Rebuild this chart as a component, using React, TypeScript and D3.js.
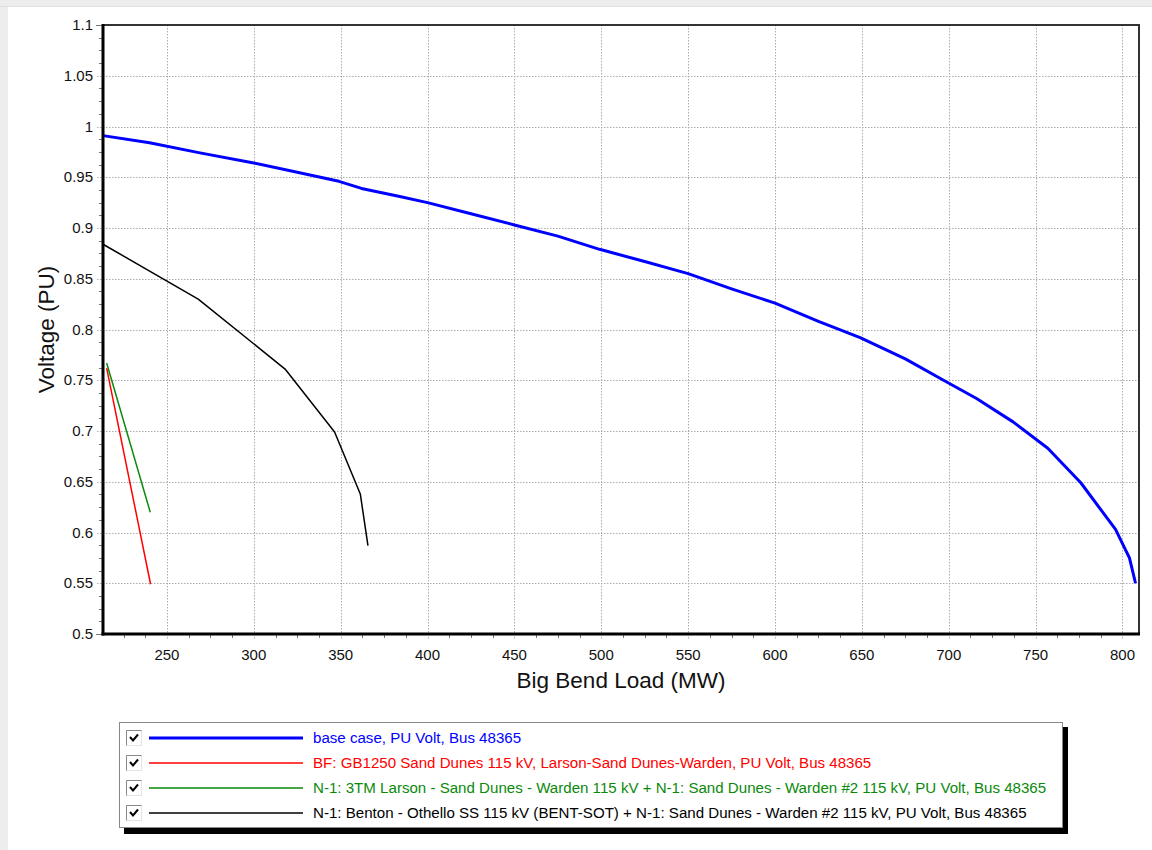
import React from "react";
import * as d3 from "d3";

// Big Bend Load (MW) vs Voltage (PU), bus 48365
const baseLoad = [213.2, 240, 269, 300, 325, 349, 362, 384, 400, 425, 450, 475, 499, 525, 550, 575, 600, 625, 649, 675, 697, 716, 737, 757, 776, 796, 804, 807.5];
const baseVolt = [0.991, 0.984, 0.974, 0.964, 0.955, 0.946, 0.939, 0.931, 0.925, 0.914, 0.903, 0.892, 0.879, 0.867, 0.855, 0.840, 0.826, 0.808, 0.792, 0.771, 0.750, 0.732, 0.709, 0.683, 0.649, 0.603, 0.575, 0.550];

const bfLoad = [215.3, 240.6];
const bfVolt = [0.762, 0.549];

const n1Load = [215.3, 240.4];
const n1Volt = [0.767, 0.620];

const bentLoad = [213.2, 268, 318, 346.5, 361.3, 365.7];
const bentVolt = [0.884, 0.830, 0.761, 0.699, 0.638, 0.587];

const xTicks = [250, 300, 350, 400, 450, 500, 550, 600, 650, 700, 750, 800];
const yTicks = [0.5, 0.55, 0.6, 0.65, 0.7, 0.75, 0.8, 0.85, 0.9, 0.95, 1, 1.05, 1.1];

const legendLabels = [
  "base case, PU Volt, Bus 48365",
  "BF: GB1250 Sand Dunes 115 kV, Larson-Sand Dunes-Warden, PU Volt, Bus 48365",
  "N-1: 3TM Larson - Sand Dunes - Warden 115 kV + N-1: Sand Dunes - Warden #2 115 kV, PU Volt, Bus 48365",
  "N-1: Benton - Othello SS 115 kV (BENT-SOT) + N-1: Sand Dunes - Warden #2 115 kV, PU Volt, Bus 48365",
];

const W = 1152;
const H = 850;
const left = 103, right = 1139, top = 25, bottom = 634;
const font = "'Liberation Sans', Arial, sans-serif";

const x = d3.scaleLinear().domain([213.2, 809.5]).range([left, right]);
const y = d3.scaleLinear().domain([0.5, 1.1]).range([bottom, top]);

const line = d3
  .line<[number, number]>()
  .x(d => x(d[0]))
  .y(d => y(d[1]));

const zip = (a: number[], b: number[]) => a.map((v, i) => [v, b[i]] as [number, number]);

const series = [
  { pts: zip(baseLoad, baseVolt), color: "#0000ff", width: 3 },
  { pts: zip(bfLoad, bfVolt), color: "#ff0000", width: 1.5 },
  { pts: zip(n1Load, n1Volt), color: "#0a8a0a", width: 1.5 },
  { pts: zip(bentLoad, bentVolt), color: "#000000", width: 1.5 },
];

const xMinor = d3.range(225, 809, 12.5).filter(v => v % 50 !== 0);
const yMinor = d3.range(0, 48).map(i => 0.5 + i * 0.0125).filter((v, i) => i % 4 !== 0);

export default function App() {
  return (
    <svg width={W} height={H} style={{ position: "absolute", left: 0, top: 0 }} fontFamily={font}>
      <rect width={W} height={H} fill="#ededed" />
      <rect x={8} y={7} width={W - 8} height={H - 7} fill="#ffffff" />
      <line x1={0} x2={W} y1={6.5} y2={6.5} stroke="#e0e0e0" />

      {/* grid */}
      <g stroke="#adadad" strokeDasharray="1.5,1.5" strokeWidth={1}>
        {xTicks.map(t => (
          <line key={t} x1={Math.round(x(t)) + 0.5} x2={Math.round(x(t)) + 0.5} y1={top} y2={bottom + 5} />
        ))}
        {yTicks.slice(1, -1).map(t => (
          <line key={t} x1={left - 6} x2={right} y1={Math.round(y(t)) + 0.5} y2={Math.round(y(t)) + 0.5} />
        ))}
      </g>

      {/* minor ticks */}
      <g stroke="#777" strokeWidth={1}>
        {xMinor.map(t => (
          <line key={t} x1={Math.round(x(t)) + 0.5} x2={Math.round(x(t)) + 0.5} y1={bottom} y2={bottom + 4} />
        ))}
        {yMinor.map(t => (
          <line key={t} x1={left - 4} x2={left} y1={Math.round(y(t)) + 0.5} y2={Math.round(y(t)) + 0.5} />
        ))}
        <line x1={left - 7} x2={left} y1={top + 0.5} y2={top + 0.5} />
        <line x1={left - 7} x2={left} y1={bottom + 0.5} y2={bottom + 0.5} />
      </g>

      {/* series */}
      {series.map((s, i) => (
        <path key={i} d={line(s.pts) || ""} fill="none" stroke={s.color} strokeWidth={s.width} strokeLinejoin="round" />
      ))}

      {/* frame */}
      <line x1={left} x2={right + 1} y1={top} y2={top} stroke="#333" strokeWidth={2} />
      <line x1={right} x2={right} y1={top} y2={bottom} stroke="#333" strokeWidth={2} />
      <line x1={left} x2={left} y1={top - 1} y2={bottom + 1.5} stroke="#000" strokeWidth={3} />
      <line x1={left - 1.5} x2={right + 1} y1={bottom} y2={bottom} stroke="#000" strokeWidth={3} />

      {/* tick labels */}
      <g fontSize={15} fill="#111">
        {xTicks.map(t => (
          <text key={t} x={x(t)} y={660} textAnchor="middle">{t}</text>
        ))}
        {yTicks.map(t => (
          <text key={t} x={93} y={y(t) + 5} textAnchor="end">{t}</text>
        ))}
      </g>

      {/* axis titles */}
      <text x={(left + right) / 2} y={688} textAnchor="middle" fontSize={22.5} fill="#111">Big Bend Load (MW)</text>
      <text transform={`translate(54, ${(top + bottom) / 2}) rotate(-90)`} textAnchor="middle" fontSize={22.5} fill="#111">Voltage (PU)</text>

      {/* legend */}
      <rect x={124} y={727} width={944} height={107} fill="#000" />
      <rect x={119.5} y={722.5} width={943} height={105} fill="#fff" stroke="#888" />
      {legendLabels.map((lab, i) => {
        const cy = 738 + i * 25;
        const s = series[i];
        return (
          <g key={i}>
            <rect x={126.5} y={cy - 7.5} width={15} height={15} fill="#fff" stroke="#e4e4e4" />
            <path d={`M126.5,${cy + 7.5} V${cy - 7.5} H141.5`} fill="none" stroke="#888" />
            <path d={`M130,${cy - 1} l3,3.5 l5,-6`} fill="none" stroke="#000" strokeWidth={2} />
            <line x1={149} x2={303} y1={cy} y2={cy} stroke={s.color} strokeWidth={s.width} />
            <text x={313} y={cy + 5} fontSize={15.1} fill={s.color}>{lab}</text>
          </g>
        );
      })}
    </svg>
  );
}
